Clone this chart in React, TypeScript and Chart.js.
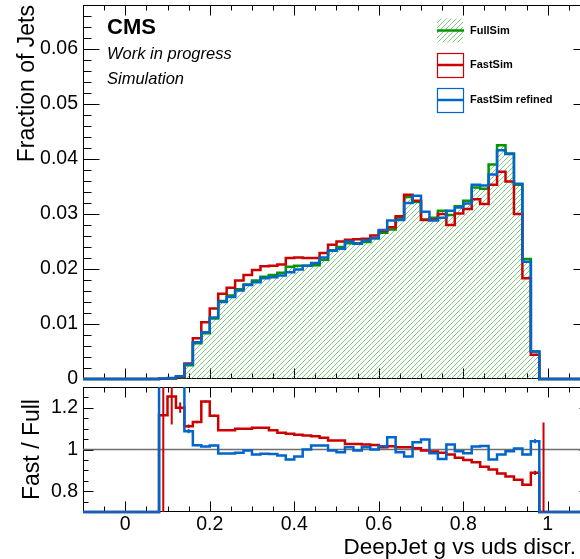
import React, { useEffect, useRef } from 'react';
import { Chart, registerables } from 'chart.js';

Chart.register(...registerables);

const FONT = "'Liberation Sans', Arial, sans-serif";
Chart.defaults.font.family = FONT;

// ---- binning (histogram from -0.1 to 1.1, 60 bins of 0.02) ----
const BIN_LOW = -0.1;
const BIN_WIDTH = 0.02;
const X_MIN = -0.1;
const X_MAX = 1.1;

// ---- main panel: fraction of jets per bin ----
const fullSim = [
  0, 0, 0, 0, 0, 0, 0, 0, 0,
  0.00005, 0.0001, 0.0003, 0.0025, 0.0065, 0.0083, 0.0110, 0.0142, 0.0152, 0.0163,
  0.0172, 0.0179, 0.0186, 0.0189, 0.0193, 0.0204, 0.0206, 0.0206, 0.0207, 0.0217,
  0.0234, 0.0240, 0.0247, 0.0247, 0.0249, 0.0256, 0.0266, 0.0272, 0.0293, 0.0331,
  0.0322, 0.0290, 0.0293, 0.0306, 0.0298, 0.0314, 0.0324, 0.0348, 0.0346, 0.0390,
  0.0425, 0.0410, 0.0353, 0.0218, 0.0050,
  0, 0, 0, 0, 0, 0,
];
const fastSim = [
  0, 0, 0, 0, 0, 0, 0, 0, 0,
  0.00006, 0.00013, 0.00036, 0.0028, 0.0074, 0.0103, 0.0128, 0.0155, 0.0166, 0.0179,
  0.0189, 0.0198, 0.0205, 0.0206, 0.0208, 0.0220, 0.0221, 0.0220, 0.0220, 0.0229,
  0.0244, 0.0250, 0.0253, 0.0254, 0.0255, 0.0261, 0.0269, 0.0276, 0.0296, 0.0335,
  0.0324, 0.0289, 0.0290, 0.0300, 0.0280, 0.0301, 0.0309, 0.0327, 0.0318, 0.0353,
  0.0377, 0.0359, 0.0300, 0.0183, 0.0044,
  0, 0, 0, 0, 0, 0,
];
const fastSimRefined = [
  0, 0, 0, 0, 0, 0, 0, 0, 0,
  0.0001, 0.0002, 0.0005, 0.0027, 0.0067, 0.0085, 0.0112, 0.0140, 0.0149, 0.0161,
  0.0171, 0.0176, 0.0183, 0.0185, 0.0188, 0.0194, 0.0199, 0.0206, 0.0211, 0.0221,
  0.0233, 0.0237, 0.0250, 0.0246, 0.0252, 0.0256, 0.0271, 0.0288, 0.0289, 0.0320,
  0.0333, 0.0304, 0.0288, 0.0293, 0.0306, 0.0312, 0.0319, 0.0353, 0.0352, 0.0372,
  0.0416, 0.0409, 0.0355, 0.0213, 0.0050,
  0, 0, 0, 0, 0, 0,
];

// ---- ratio panel: Fast / Full ----
const ratioFast = [
  0, 0, 0, 0, 0, 0, 0, 0, 0,
  1.164, 1.254, 1.201, 1.112, 1.132, 1.230, 1.162, 1.093, 1.093, 1.100,
  1.100, 1.105, 1.105, 1.092, 1.080, 1.076, 1.071, 1.067, 1.064, 1.056,
  1.043, 1.043, 1.027, 1.027, 1.024, 1.022, 1.011, 1.016, 1.011, 1.011,
  1.006, 0.995, 0.990, 0.984, 0.976, 0.960, 0.950, 0.939, 0.917, 0.904,
  0.885, 0.871, 0.855, 0.831, 0.888, 0,
  0, 0, 0, 0, 0,
];
const ratioFastErr = [
  0, 0, 0, 0, 0, 0, 0, 0, 0,
  0.6, 0.134, 0.025, 0.008, 0.006, 0.006, 0.005, 0.004, 0.004, 0.004,
  0.003, 0.003, 0.003, 0.003, 0.003, 0.003, 0.003, 0.003, 0.003, 0.003,
  0.003, 0.003, 0.003, 0.003, 0.003, 0.003, 0.003, 0.003, 0.003, 0.003,
  0.003, 0.003, 0.003, 0.003, 0.003, 0.003, 0.003, 0.003, 0.003, 0.003,
  0.003, 0.003, 0.003, 0.004, 0.01, 1.13,
  0, 0, 0, 0, 0,
];
const ratioRefined = [
  0, 0, 0, 0, 0, 0, 0, 0, 0,
  1.5, 1.5, 1.5, 1.088, 1.021, 1.014, 1.019, 0.981, 0.981, 0.984,
  0.995, 0.976, 0.980, 0.978, 0.971, 0.952, 0.966, 1.000, 1.019, 1.019,
  0.995, 0.987, 1.011, 0.995, 1.011, 1.000, 1.016, 1.059, 0.987, 0.966,
  1.035, 1.048, 0.982, 0.955, 1.024, 0.992, 0.982, 1.014, 1.017, 0.952,
  0.976, 0.992, 1.005, 0.976, 1.040, 0,
  0, 0, 0, 0, 0,
];
const ratioRefinedErr = [
  0, 0, 0, 0, 0, 0, 0, 0, 0,
  0.1, 0.1, 0.1, 0.01, 0.005, 0.004, 0.004, 0.003, 0.003, 0.003,
  0.003, 0.003, 0.003, 0.003, 0.003, 0.003, 0.003, 0.003, 0.003, 0.003,
  0.003, 0.003, 0.003, 0.003, 0.003, 0.003, 0.003, 0.003, 0.003, 0.003,
  0.003, 0.003, 0.003, 0.003, 0.003, 0.003, 0.003, 0.003, 0.003, 0.003,
  0.003, 0.003, 0.003, 0.004, 0.01, 0,
  0, 0, 0, 0, 0,
];

// ---- axes ----
const mainYTicks = [0, 0.01, 0.02, 0.03, 0.04, 0.05, 0.06];
const ratioYTicks = [0.8, 1, 1.2];
const xTickValues = [0, 0.2, 0.4, 0.6, 0.8, 1];
const MAIN_Y_MAX = 0.068;
const RATIO_MIN = 0.7;
const RATIO_MAX = 1.3;

const legendEntries = [
  { label: 'FullSim', key: 'full' },
  { label: 'FastSim', key: 'fast' },
  { label: 'FastSim refined', key: 'refined' },
];

const GREEN = 'rgb(0,150,0)';
const RED = 'rgb(204,0,0)';
const BLUE = 'rgb(0,102,204)';
const HATCH = 'rgba(40,170,40,0.75)';

function stepPoints(values: number[], floor = -Infinity) {
  const pts = values.map((v, i) => ({ x: BIN_LOW + i * BIN_WIDTH, y: Math.max(v, floor) }));
  pts.push({ x: BIN_LOW + values.length * BIN_WIDTH, y: pts[pts.length - 1].y });
  return pts;
}

function makeHatch(): CanvasPattern | string {
  const s = 5;
  const c = document.createElement('canvas');
  c.width = s;
  c.height = s;
  const g = c.getContext('2d');
  if (!g) return HATCH;
  g.strokeStyle = HATCH;
  g.lineWidth = 0.8;
  g.beginPath();
  g.moveTo(-1, s + 1);
  g.lineTo(s + 1, -1);
  g.moveTo(-1, 1);
  g.lineTo(1, -1);
  g.moveTo(s - 1, s + 1);
  g.lineTo(s + 1, s - 1);
  g.stroke();
  return g.createPattern(c, 'repeat') || HATCH;
}

type FrameCfg = { yStep: number; yMajorEvery: number; yMajorLen: number; yMinorLen: number; xMajorLen: number; xMinorLen: number };

function drawFrame(chart: any, cfg: FrameCfg) {
  const { ctx, chartArea: a, scales } = chart;
  const xs = scales.x;
  const ys = scales.y;
  ctx.save();
  ctx.strokeStyle = '#000';
  ctx.lineWidth = 1;
  const L = Math.round(a.left) + 0.5;
  const R = Math.round(a.right) - 0.5;
  const T = Math.round(a.top) + 0.5;
  const B = Math.round(a.bottom) - 0.5;
  ctx.strokeRect(L, T, R - L, B - T);
  ctx.beginPath();
  const xStep = 0.05;
  for (let k = Math.ceil(X_MIN / xStep - 1e-9); k <= Math.floor(X_MAX / xStep + 1e-9); k++) {
    const px = Math.round(xs.getPixelForValue(k * xStep)) + 0.5;
    const len = k % 4 === 0 ? cfg.xMajorLen : cfg.xMinorLen;
    ctx.moveTo(px, B);
    ctx.lineTo(px, B - len);
    ctx.moveTo(px, T);
    ctx.lineTo(px, T + len);
  }
  const yMin = ys.min;
  const yMax = ys.max;
  for (let k = Math.ceil(yMin / cfg.yStep - 1e-9); k <= Math.floor(yMax / cfg.yStep + 1e-9); k++) {
    const py = Math.round(ys.getPixelForValue(k * cfg.yStep)) + 0.5;
    const len = k % cfg.yMajorEvery === 0 ? cfg.yMajorLen : cfg.yMinorLen;
    ctx.moveTo(L, py);
    ctx.lineTo(L + len, py);
    ctx.moveTo(R, py);
    ctx.lineTo(R - len, py);
  }
  ctx.stroke();
  ctx.restore();
}

function noPad(s: any) {
  s.paddingTop = 0;
  s.paddingBottom = 0;
  s.paddingLeft = 0;
  s.paddingRight = 0;
}

export default function App() {
  const mainRef = useRef<HTMLCanvasElement | null>(null);
  const ratioRef = useRef<HTMLCanvasElement | null>(null);

  useEffect(() => {
    if (!mainRef.current || !ratioRef.current) return;
    const hatch = makeHatch();

    const mainFrame = {
      id: 'mainFrame',
      beforeDatasetsDraw(chart: any) {
        drawFrame(chart, { yStep: 0.002, yMajorEvery: 5, yMajorLen: 16, yMinorLen: 8, xMajorLen: 10, xMinorLen: 5 });
      },
      afterDraw(chart: any) {
        const ctx = chart.ctx;
        ctx.save();
        ctx.fillStyle = '#000';
        ctx.textAlign = 'left';
        ctx.textBaseline = 'alphabetic';
        ctx.font = `bold 22px ${FONT}`;
        ctx.fillText('CMS', 107, 34);
        ctx.font = `italic 16.5px ${FONT}`;
        ctx.fillText('Work in progress', 107, 58.5);
        ctx.fillText('Simulation', 107, 84);

        // legend
        const bx = 437;
        const bw = 26;
        const bh = 24;
        const rows = [30.5, 65, 100];
        legendEntries.forEach((e, i) => {
          const cy = rows[i];
          const top = cy - bh / 2;
          if (e.key === 'full') {
            ctx.fillStyle = hatch;
            ctx.fillRect(bx, top, bw, bh);
            ctx.strokeStyle = GREEN;
          } else {
            ctx.strokeStyle = e.key === 'fast' ? RED : BLUE;
            ctx.lineWidth = 1.2;
            ctx.strokeRect(bx + 0.5, top + 0.5, bw, bh);
          }
          ctx.lineWidth = 2.5;
          ctx.beginPath();
          ctx.moveTo(bx, cy);
          ctx.lineTo(bx + bw + 1, cy);
          ctx.stroke();
          ctx.fillStyle = '#000';
          ctx.font = `bold 11px ${FONT}`;
          ctx.textBaseline = 'middle';
          ctx.fillText(e.label, 470, cy);
        });
        ctx.restore();
      },
    };

    const ratioFrame = {
      id: 'ratioFrame',
      beforeDatasetsDraw(chart: any) {
        const { ctx, chartArea: a, scales } = chart;
        drawFrame(chart, { yStep: 0.05, yMajorEvery: 4, yMajorLen: 10, yMinorLen: 5, xMajorLen: 10, xMinorLen: 5 });
        const py = scales.y.getPixelForValue(1);
        ctx.save();
        ctx.strokeStyle = 'rgb(110,110,110)';
        ctx.lineWidth = 1.5;
        ctx.beginPath();
        ctx.moveTo(a.left, py);
        ctx.lineTo(a.right, py);
        ctx.stroke();
        ctx.restore();
      },
      afterDatasetsDraw(chart: any) {
        const { ctx, chartArea: a, scales } = chart;
        const xs = scales.x;
        const ys = scales.y;
        ctx.save();
        ctx.beginPath();
        ctx.rect(a.left, a.top, a.right - a.left, a.bottom - a.top);
        ctx.clip();
        const sets: [number[], number[], string][] = [
          [ratioRefined, ratioRefinedErr, BLUE],
          [ratioFast, ratioFastErr, RED],
        ];
        sets.forEach(([vals, errs, color]) => {
          ctx.strokeStyle = color;
          ctx.lineWidth = 2;
          vals.forEach((v, i) => {
            const e = errs[i];
            if (!e) return;
            const cx = xs.getPixelForValue(BIN_LOW + (i + 0.5) * BIN_WIDTH);
            ctx.beginPath();
            ctx.moveTo(cx, ys.getPixelForValue(v - e));
            ctx.lineTo(cx, ys.getPixelForValue(v + e));
            ctx.stroke();
          });
        });
        ctx.restore();
      },
      afterDraw(chart: any) {
        const ctx = chart.ctx;
        ctx.save();
        ctx.fillStyle = '#000';
        ctx.font = `22.5px ${FONT}`;
        ctx.textAlign = 'right';
        ctx.textBaseline = 'alphabetic';
        ctx.fillText('DeepJet g vs uds discr.', 576, 170);
        ctx.restore();
      },
    };

    const tickFont = { family: FONT, size: 19.5 };
    const fmt = (v: any) => String(v);

    const lineDs = (label: string, values: number[], color: string, floor?: number) => ({
      label,
      data: stepPoints(values, floor === undefined ? -Infinity : floor),
      borderColor: color,
      borderWidth: 2.5,
      stepped: 'before' as const,
      pointRadius: 0,
      fill: false,
      tension: 0,
      clip: { left: 2, top: 0, right: 2, bottom: 3 },
    });

    const main = new Chart(mainRef.current, {
      type: 'line',
      data: {
        datasets: [
          lineDs('FastSim refined', fastSimRefined, BLUE),
          lineDs('FastSim', fastSim, RED),
          { ...lineDs('FullSim', fullSim, GREEN), fill: 'origin', backgroundColor: hatch as any },
        ],
      },
      options: {
        responsive: false,
        animation: false,
        devicePixelRatio: 1,
        layout: { padding: { left: 0, top: 5, right: 10, bottom: 5 } },
        plugins: { legend: { display: false }, tooltip: { enabled: false } },
        scales: {
          x: { type: 'linear', min: X_MIN, max: X_MAX, display: false, afterFit: noPad },
          y: {
            type: 'linear',
            min: 0,
            max: MAIN_Y_MAX,
            afterFit: (s: any) => { s.width = 83; noPad(s); },
            afterBuildTicks: (s: any) => { s.ticks = mainYTicks.map((v) => ({ value: v })); },
            ticks: { font: tickFont, color: '#000', padding: 5, callback: fmt, autoSkip: false },
            grid: { display: false, drawTicks: false },
            border: { display: false },
            title: {
              display: true,
              text: 'Fraction of Jets',
              align: 'end',
              color: '#000',
              font: { family: FONT, size: 23 },
              padding: { top: 14, bottom: 0 },
            },
          },
        },
      },
      plugins: [mainFrame],
    } as any);

    const ratio = new Chart(ratioRef.current, {
      type: 'line',
      data: {
        datasets: [
          lineDs('FastSim refined / FullSim', ratioRefined, BLUE, RATIO_MIN),
          lineDs('FastSim / FullSim', ratioFast, RED, RATIO_MIN),
        ],
      },
      options: {
        responsive: false,
        animation: false,
        devicePixelRatio: 1,
        layout: { padding: { left: 0, top: 3, right: 10, bottom: 0 } },
        plugins: { legend: { display: false }, tooltip: { enabled: false } },
        scales: {
          x: {
            type: 'linear',
            min: X_MIN,
            max: X_MAX,
            afterFit: (s: any) => { s.height = 47; noPad(s); },
            afterBuildTicks: (s: any) => { s.ticks = xTickValues.map((v) => ({ value: v })); },
            ticks: { font: tickFont, color: '#000', padding: 1, callback: fmt, autoSkip: false, maxRotation: 0 },
            grid: { display: false, drawTicks: false },
            border: { display: false },
          },
          y: {
            type: 'linear',
            min: RATIO_MIN,
            max: RATIO_MAX,
            afterFit: (s: any) => { s.width = 83; noPad(s); },
            afterBuildTicks: (s: any) => { s.ticks = ratioYTicks.map((v) => ({ value: v })); },
            ticks: { font: tickFont, color: '#000', padding: 5, callback: fmt, autoSkip: false },
            grid: { display: false, drawTicks: false },
            border: { display: false },
            title: {
              display: true,
              text: 'Fast / Full',
              align: 'center',
              color: '#000',
              font: { family: FONT, size: 23 },
              padding: { top: 19, bottom: 0 },
            },
          },
        },
      },
      plugins: [ratioFrame],
    } as any);

    return () => {
      main.destroy();
      ratio.destroy();
    };
  }, []);

  return (
    <div style={{ position: 'fixed', left: 0, top: 0, width: 580, height: 559, overflow: 'hidden', background: '#fff' }}>
      <canvas ref={mainRef} width={600} height={384} style={{ position: 'absolute', left: 0, top: 0, width: 600, height: 384 }} />
      <canvas ref={ratioRef} width={600} height={175} style={{ position: 'absolute', left: 0, top: 384, width: 600, height: 175 }} />
    </div>
  );
}
